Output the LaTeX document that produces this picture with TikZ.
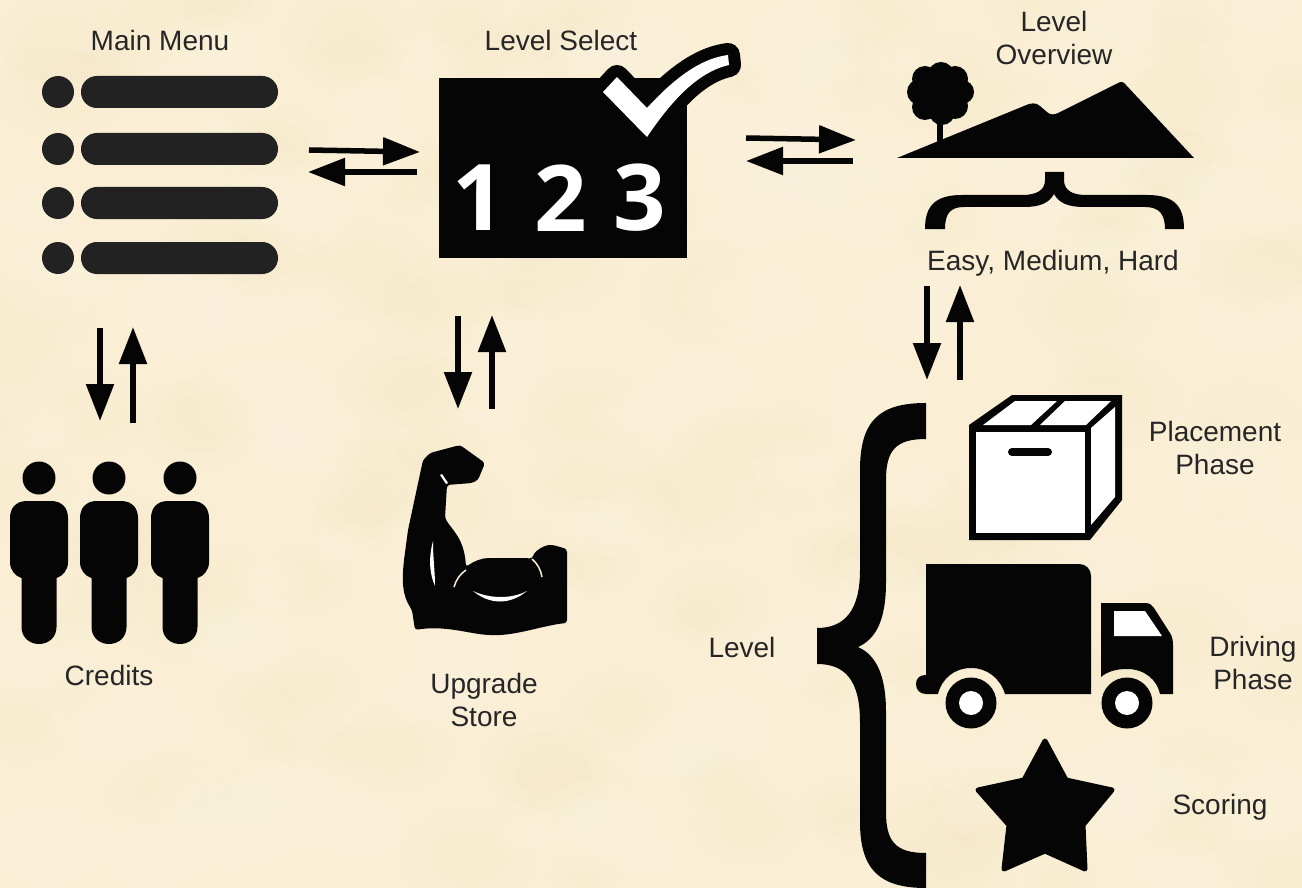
\documentclass[tikz,border=0pt]{standalone}
\usepackage{fontspec}
\setmainfont{Liberation Sans}
\newfontfamily\digitfont{Open Sans}
\usetikzlibrary{arrows.meta}
\definecolor{paper}{HTML}{FAEFD5}
\definecolor{blotch}{HTML}{F6E6C4}
\definecolor{glow}{HTML}{FEF6E3}
\definecolor{ink}{HTML}{050505}
\definecolor{menuink}{HTML}{222222}
\definecolor{labelink}{HTML}{262626}
\tikzset{
  lbl/.style={font=\fontsize{28}{33}\selectfont,text=labelink,inner sep=0pt,align=center},
  flow/.style={draw=ink,line width=5.5pt,-{Triangle[length=37pt,width=27pt]}},
  digit/.style={font=\digitfont\bfseries\fontsize{92}{92}\selectfont,text=white,inner sep=0pt},
  whitepart/.style={fill=white,draw=none},
}
\begin{document}
\begin{tikzpicture}[x=1pt,y=-1pt]
\useasboundingbox (0,0) rectangle (1302,888);
\fill[paper] (0,0) rectangle (1302,888);
% mottled paper
\begin{scope}
\clip (0,0) rectangle (1302,888);
\pgfmathsetseed{4242}
\foreach \i in {1,...,150}{
  \pgfmathsetmacro{\bx}{rnd*1302}
  \pgfmathsetmacro{\by}{rnd*888}
  \pgfmathsetmacro{\br}{20+rnd*30}
  \fill[blotch,opacity=.09] (\bx,\by) ellipse [x radius=\br*1.4,y radius=\br];
  \fill[blotch,opacity=.09] (\bx,\by) ellipse [x radius=\br*.9,y radius=\br*.65];
}
\foreach \i in {1,...,120}{
  \pgfmathsetmacro{\bx}{rnd*1302}
  \pgfmathsetmacro{\by}{rnd*888}
  \pgfmathsetmacro{\br}{20+rnd*30}
  \fill[glow,opacity=.14] (\bx,\by) ellipse [x radius=\br*1.4,y radius=\br];
  \fill[glow,opacity=.14] (\bx,\by) ellipse [x radius=\br*.9,y radius=\br*.65];
}
\end{scope}

% ---- labels
\node[lbl] (mainmenu) at (160,40) {Main Menu};
\node[lbl] (levelselect) at (561,40) {Level Select};
\node[lbl] (overview) at (1054,37.5) {Level\\Overview};
\node[lbl,anchor=base] (difficulty) at (1053,270) {Easy, Medium, Hard};
\node[lbl] (credits) at (109,675) {Credits};
\node[lbl] (store) at (484,700) {Upgrade\\Store};
\node[lbl] (placement) at (1215,448) {Placement\\Phase};
\node[lbl] (level) at (742,647) {Level};
\node[lbl] (driving) at (1253,663) {Driving\\Phase};
\node[lbl,anchor=base] (scoring) at (1220,814) {Scoring};

% ---- menu
\foreach \n/\yy in {a/92,b/149,c/203,d/258}{
  \fill[menuink] (58,\yy) circle (16);
  \node[fill=menuink,draw=none,rounded corners=15.9pt,minimum width=197pt,minimum height=32pt,inner sep=0pt] (menu\n) at (179.5,\yy) {};
}

% ---- level select
\node[fill=ink,draw=none,minimum width=248pt,minimum height=180pt,inner sep=0pt] (selectbox) at (563,168) {};
\path[draw=ink,fill=ink,line width=24pt,line join=round,line cap=round]
  (603,92) -- (617,77) -- (647,108) .. controls (680,72) and (705,58) .. (728,55) -- (729,65) .. controls (698,72) and (672,100) .. (647,137) -- cycle;
\fill[white] (603,92) -- (617,77) -- (647,108) .. controls (680,72) and (705,58) .. (728,55) -- (729,65) .. controls (698,72) and (672,100) .. (647,137) -- cycle;
\node[digit] (digitone) at (479,198) {1};
\node[digit] (digittwo) at (561,198) {2};
\node[digit] (digitthree) at (640,198) {3};

% ---- landscape
\fill[ink] (897,158) -- (1024,106) .. controls (1030,103) and (1036,102) .. (1040,106) -- (1047,112) .. controls (1050,115) and (1054,115) .. (1058,113) -- (1118,83) .. controls (1121,81) and (1124,82) .. (1126,85) -- (1194,158) -- cycle;
\fill[ink] (937,115) rectangle (943,142);
\foreach \cx/\cy/\cr in {940/93/27,941/75/13,925/79/13,955/79/13,920/92/13,962/92/12,925/107/13,942/112/13,955/106/13}{
  \fill[ink] (\cx,\cy) circle (\cr);
}

% ---- top brace
\node[inner sep=0pt] (topbrace) at (1054,200) {};
\fill[ink] (1045,172) -- (1045,180) .. controls (1045,190) and (1037,195) .. (1022,195) -- (962,195)
  .. controls (936,195) and (925,205) .. (925,229) -- (945,229)
  .. controls (945,214) and (950,207) .. (964,207) -- (1024,207)
  .. controls (1040,207) and (1049,203) .. (1054,194)
  .. controls (1059,203) and (1068,207) .. (1084,207) -- (1145,207)
  .. controls (1159,207) and (1165,214) .. (1165,229) -- (1184,229)
  .. controls (1184,205) and (1173,195) .. (1147,195) -- (1086,195)
  .. controls (1072,195) and (1064,190) .. (1064,180) -- (1064,172) -- cycle;

% ---- big brace
\node[inner sep=0pt] (bigbrace) at (870,645) {};
\fill[ink] (926,403) .. controls (880,403) and (860,420) .. (860,470) -- (860,570)
  .. controls (860,610) and (845,628) .. (817,628) -- (817,664)
  .. controls (845,664) and (860,680) .. (860,722) -- (860,822)
  .. controls (860,870) and (880,888) .. (926,888) -- (926,853)
  .. controls (896,853) and (886,842) .. (886,812) -- (886,712)
  .. controls (886,675) and (876,655) .. (858,647)
  .. controls (876,639) and (886,620) .. (886,582) -- (886,480)
  .. controls (886,450) and (896,439) .. (926,439) -- cycle;

% ---- box
\fill[ink,line join=round] (969,425) -- (1012,395) -- (1122,395) -- (1122,500) -- (1090,540) -- (969,540) -- cycle;
\fill[whitepart] (976,432) rectangle (1085,533);
\fill[whitepart] (1091,428) -- (1115,407) -- (1115,497) -- (1091,525) -- cycle;
\fill[whitepart] (983,425) -- (1015,401) -- (1057,401) -- (1031,425) -- cycle;
\fill[whitepart] (1040,425) -- (1065,401) -- (1111,401) -- (1086,425) -- cycle;
\draw[ink,line width=8pt,line cap=round] (1012,452) -- (1048,452);

% ---- truck
\fill[ink] (926,564) -- (1079,564) .. controls (1086,564) and (1091,569) .. (1091,576) -- (1091,694) -- (1005,694)
  .. controls (1000,678) and (987,668) .. (971,668) .. controls (955,668) and (942,678) .. (938,694)
  -- (926,694) .. controls (920,694) and (916,690) .. (916,684) .. controls (916,678) and (920,675) .. (926,675) -- cycle;
\fill[ink] (1101,603) -- (1145,603) .. controls (1150,603) and (1152,605) .. (1154,608) -- (1170,633) .. controls (1172,636) and (1173,640) .. (1173,645) -- (1173,694) -- (1160,694)
  .. controls (1157,680) and (1145,669) .. (1127,669) .. controls (1115,669) and (1107,672) .. (1101,677) -- cycle;
\fill[whitepart] (1114,611) -- (1145,611) -- (1162,636) -- (1114,636) -- cycle;
\foreach \wx in {971,1127}{
  \fill[ink] (\wx,703) circle (25.5);
  \fill[white] (\wx,703) circle (12);
}

% ---- star
\filldraw[ink,line width=5pt,line join=round] (1045,741) -- (1066,780) -- (1112,790) -- (1083,825) -- (1085,869) -- (1045,851) -- (1004,869) -- (1009,825) -- (978,790) -- (1024,780) -- cycle;

% ---- people
\foreach \n/\px in {a/39,b/109,c/180}{
  \fill[ink] (\px,478) circle (16.5);
  \fill[ink] (\px-12,501) .. controls (\px-23,501) and (\px-29,508) .. (\px-29,518) -- (\px-29,562)
     .. controls (\px-29,570) and (\px-24,576) .. (\px-17.5,578) -- (\px-17.5,627)
     .. controls (\px-17.5,637) and (\px-10,644) .. (\px,644)
     .. controls (\px+10,644) and (\px+17.5,637) .. (\px+17.5,627) -- (\px+17.5,578)
     .. controls (\px+24,576) and (\px+29,570) .. (\px+29,562) -- (\px+29,518)
     .. controls (\px+29,508) and (\px+23,501) .. (\px+12,501) -- cycle;
}

% ---- bicep
\node[inner sep=0pt] (bicep) at (485,540) {};
\fill[ink,rounded corners=3pt] (460,445) -- (485,463) -- (478,480) -- (472,483) -- (447,485)
  -- (445,518) .. controls (452,530) and (464,538) .. (466,567)
  .. controls (474,561) and (482,558) .. (492,558) -- (514,558) .. controls (522,558) and (527,558) .. (532,559)
  .. controls (535,550) and (545,545) .. (553,545) -- (567,549) -- (567,623)
  .. controls (545,625) and (515,636) .. (490,635) .. controls (470,634) and (445,625) .. (415,630)
  -- (412,610) .. controls (402,595) and (402,580) .. (404,560) -- (408,530) -- (423,460) -- (430,453) -- cycle;
\fill[white] (433,541) .. controls (428,560) and (430,575) .. (435,586) .. controls (435,570) and (433,560) .. (433,541) -- cycle;
\fill[white] (473,591) .. controls (490,605) and (510,605) .. (527,591) .. controls (512,599) and (490,599) .. (473,591) -- cycle;
\fill[white] (440,475) -- (442,474) -- (448,483) -- (446,484) -- cycle;
\draw[paper,line width=1.5pt] (454,587) .. controls (456,580) and (460,574) .. (466,570);
\draw[paper,line width=1.5pt] (532,559) .. controls (537,563) and (541,570) .. (542,577);

% ---- connectors
\coordinate (ma) at (309,150); \coordinate (mb) at (420,152);
\coordinate (mc) at (417,172); \coordinate (md) at (308,172);
\coordinate (oa) at (746,138); \coordinate (ob) at (856,140);
\coordinate (oc) at (853,161); \coordinate (od) at (746,161);
\coordinate (la) at (927,286); \coordinate (lb) at (927,380);
\coordinate (lc) at (960,380); \coordinate (ld) at (960,285);
\coordinate (ca) at (100,328); \coordinate (cb) at (100,421);
\coordinate (cc) at (133,423); \coordinate (cd) at (133,327);
\coordinate (sa) at (458,316); \coordinate (sb) at (458,409);
\coordinate (sc) at (492,409); \coordinate (sd) at (492,315);
\foreach \s/\t in {ma/mb,mc/md,oa/ob,oc/od,la/lb,lc/ld,ca/cb,cc/cd,sa/sb,sc/sd}{
  \draw[flow] (\s) -- (\t);
}
\end{tikzpicture}
\end{document}
